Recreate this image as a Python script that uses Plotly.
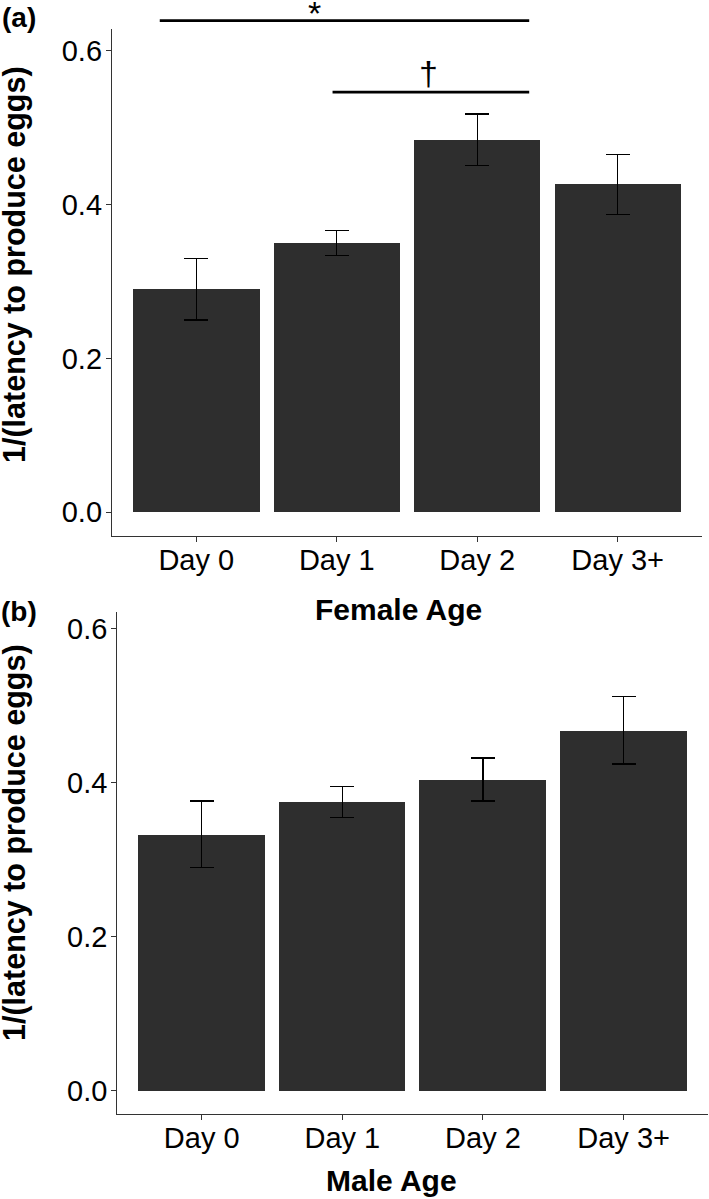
import plotly.graph_objects as go

# Data
days = ["Day 0", "Day 1", "Day 2", "Day 3+"]
pos = [1, 2, 3, 4]

female_mean = [0.290, 0.350, 0.484, 0.426]
female_se = [0.040, 0.0165, 0.0335, 0.039]

male_mean = [0.333, 0.375, 0.404, 0.468]
male_se = [0.043, 0.020, 0.028, 0.044]

# significance brackets for panel (a): start, end, height, label, label x, label y
sig_start = [0.74, 1.97]
sig_end = [3.37, 3.37]
sig_y = [0.639, 0.546]
sig_text = ["*", "†"]
sig_text_x = [1.84, 2.65]
sig_text_y = [0.649, 0.571]

W, H = 709, 1199
FONT = "Liberation Sans, Arial, sans-serif"
BAR = "#2e2e2e"
AXIS = "#333333"

# panel geometry in pixels (left, right, top, bottom)
pa = dict(l=112, r=702, t=29, b=535.7)
pb = dict(l=117.3, r=708, t=611.7, b=1114)
ya_range = [-0.0304, 0.628]
yb_range = [-0.0304, 0.622]
x_range = [0.4, 4.6]


def xdom(p):
    return [p["l"] / W, p["r"] / W]


def ydom(p):
    return [1 - p["b"] / H, 1 - p["t"] / H]


def y_to_paper(v, rng, dom):
    return dom[0] + (v - rng[0]) / (rng[1] - rng[0]) * (dom[1] - dom[0])


fig = go.Figure()

fig.add_trace(go.Bar(
    x=pos, y=female_mean, width=0.9,
    marker=dict(color=BAR, line=dict(width=0)),
    error_y=dict(type="data", array=female_se, color="black", thickness=1.4, width=12),
    xaxis="x", yaxis="y", showlegend=False
))

fig.add_trace(go.Bar(
    x=pos, y=male_mean, width=0.9,
    marker=dict(color=BAR, line=dict(width=0)),
    error_y=dict(type="data", array=male_se, color="black", thickness=1.4, width=12),
    xaxis="x2", yaxis="y2", showlegend=False
))

axis_common = dict(
    showline=True, linecolor=AXIS, linewidth=1.3,
    ticks="outside", ticklen=5, tickwidth=1.2, tickcolor=AXIS,
    showgrid=False, zeroline=False,
    tickfont=dict(family=FONT, size=29, color="black"),
)

fig.update_layout(
    width=W, height=H,
    margin=dict(l=0, r=0, t=0, b=0),
    plot_bgcolor="white", paper_bgcolor="white",
    bargap=0,
    xaxis=dict(domain=xdom(pa), range=x_range, tickvals=pos, ticktext=days,
               anchor="y", ticklabelstandoff=-7, **axis_common),
    yaxis=dict(domain=ydom(pa), range=ya_range, tickvals=[0, 0.2, 0.4, 0.6],
               ticktext=["0.0", "0.2", "0.4", "0.6"], anchor="x",
               ticklabelstandoff=-2, **axis_common),
    xaxis2=dict(domain=xdom(pb), range=x_range, tickvals=pos, ticktext=days,
                anchor="y2", ticklabelstandoff=-7, **axis_common),
    yaxis2=dict(domain=ydom(pb), range=yb_range, tickvals=[0, 0.2, 0.4, 0.6],
                ticktext=["0.0", "0.2", "0.4", "0.6"], anchor="x2",
                ticklabelstandoff=-2, **axis_common),
)

# significance brackets (drawn above the axis top, so use paper y)
for x0, x1, yv, txt, tx, ty in zip(sig_start, sig_end, sig_y, sig_text, sig_text_x, sig_text_y):
    yp = y_to_paper(yv, ya_range, ydom(pa))
    fig.add_shape(type="line", xref="x", yref="paper", x0=x0, x1=x1, y0=yp, y1=yp,
                  line=dict(color="black", width=2.7))
    fig.add_annotation(x=tx, y=y_to_paper(ty, ya_range, ydom(pa)), xref="x", yref="paper",
                       text=txt, showarrow=False, xanchor="center", yanchor="middle",
                       borderpad=0, font=dict(family=FONT, size=34, color="black"))

ytitle = "<b>1/(latency to produce eggs)</b>"
texts = [
    dict(text=ytitle, x=14, y=265, textangle=-90, size=30.5),
    dict(text=ytitle, x=14, y=843, textangle=-90, size=30.5),
    dict(text="<b>Female Age</b>", x=398, y=609, textangle=0, size=30),
    dict(text="<b>Male Age</b>", x=391, y=1180, textangle=0, size=30),
    dict(text="<b>(a)</b>", x=19, y=18, textangle=0, size=28),
    dict(text="<b>(b)</b>", x=19, y=611, textangle=0, size=28),
]
for t in texts:
    fig.add_annotation(x=t["x"] / W, y=1 - t["y"] / H, xref="paper", yref="paper",
                       text=t["text"], textangle=t["textangle"], showarrow=False,
                       xanchor="center", yanchor="middle", borderpad=0,
                       font=dict(family=FONT, size=t["size"], color="black"))

# the page adds an 8px body margin by default; drop it so the figure fills the window
fig.write_html("out.html", config={"displayModeBar": False},
               post_script="document.body.style.margin='0';")
